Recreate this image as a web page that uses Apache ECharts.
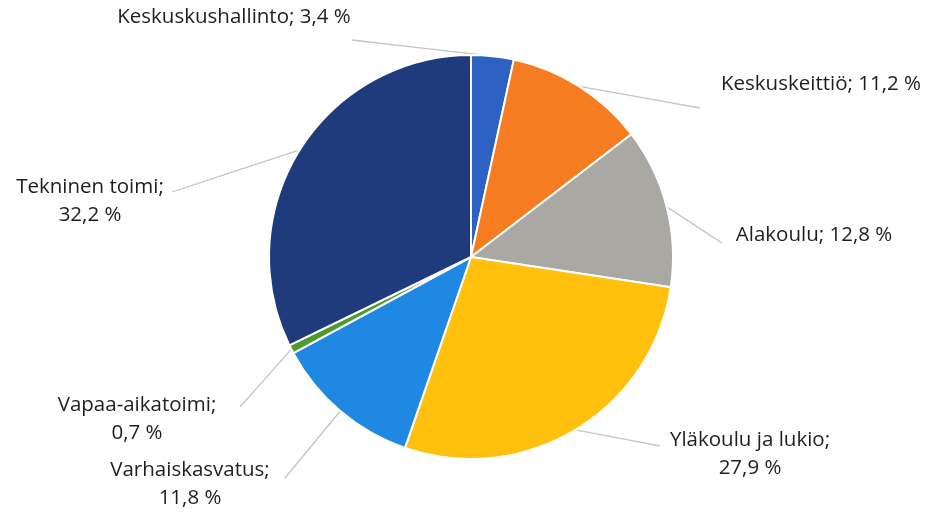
<!DOCTYPE html>
<html>
<head>
<meta charset="utf-8">
<script src="https://cdn.jsdelivr.net/npm/echarts@6/dist/echarts.min.js"></script>
<style>html,body{margin:0;padding:0;background:#fff}#c{width:926px;height:513px}</style>
</head>
<body>
<div id="c"></div>
<script>
var categories = ['Keskuskushallinto', 'Keskuskeittiö', 'Alakoulu', 'Yläkoulu ja lukio', 'Varhaiskasvatus', 'Vapaa-aikatoimi', 'Tekninen toimi'];
var values = [3.4, 11.2, 12.8, 27.9, 11.8, 0.7, 32.2];
var colors = ['#2E62C2', '#F57C20', '#A9A8A2', '#FFC10E', '#1E88E2', '#4F9A2C', '#1F3B7C'];
var twoLine = [false, false, false, true, true, true, true];
var labelPos = [[234, 17], [821, 84], [814, 235], [750, 454], [190, 484], [137, 419], [90, 201]];
var lineEnds = [[352, 40], [700, 108], [722, 243], [660, 446], [285, 478], [240, 407], [172, 192]];

var chart = echarts.init(document.getElementById('c'));
chart.setOption({
  animation: false,
  series: [{
    type: 'pie',
    center: [471, 257],
    radius: 202,
    startAngle: 90,
    clockwise: true,
    avoidLabelOverlap: false,
    data: categories.map(function (n, i) {
      return { name: n, value: values[i], itemStyle: { color: colors[i] } };
    }),
    itemStyle: { borderColor: '#fff', borderWidth: 2 },
    label: {
      show: true,
      position: 'outside',
      fontFamily: '"Open Sans", sans-serif',
      fontSize: 20.5,
      lineHeight: 28,
      color: '#1e1e1e',
      align: 'center',
      formatter: function (p) {
        var v = String(values[p.dataIndex]).replace('.', ',');
        return p.name + ';' + (twoLine[p.dataIndex] ? '\n' : ' ') + v + ' %';
      }
    },
    labelLine: {
      show: true,
      length: 10,
      length2: 10,
      lineStyle: { color: '#c4c4c4', width: 1.3 }
    },
    labelLayout: function (params) {
      var i = params.dataIndex;
      var p = labelPos[i];
      var e = lineEnds[i];
      var s = params.labelLinePoints ? params.labelLinePoints[0] : e;
      var m = [(s[0] + e[0]) / 2, (s[1] + e[1]) / 2];
      return { x: p[0], y: p[1], align: 'center', verticalAlign: 'middle', labelLinePoints: [s, m, e] };
    }
  }]
});
</script>
</body>
</html>
